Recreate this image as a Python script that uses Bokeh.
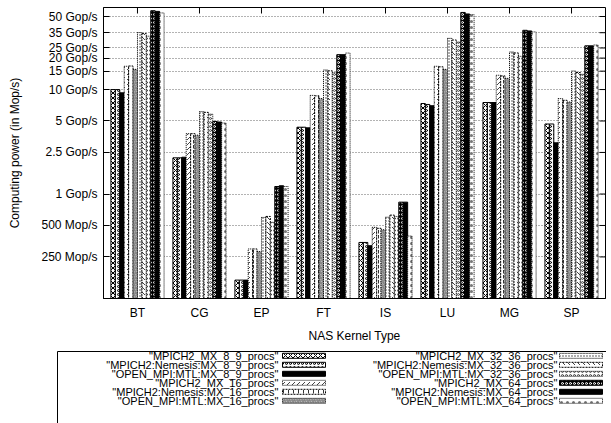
import math
from bokeh.plotting import figure
from bokeh.models import Range1d, FixedTicker, ColumnDataSource
from bokeh.embed import file_html
from bokeh.resources import INLINE
from bokeh.core.properties import value

# ---------------- data ----------------
categories = ["BT", "CG", "EP", "FT", "IS", "LU", "MG", "SP"]

series_names = [
    "MPICH2_MX_8_9_procs",
    "MPICH2:Nemesis:MX_8_9_procs",
    "OPEN_MPI:MTL:MX_8_9_procs",
    "MPICH2_MX_16_procs",
    "MPICH2:Nemesis:MX_16_procs",
    "OPEN_MPI:MTL:MX_16_procs",
    "MPICH2_MX_32_36_procs",
    "MPICH2:Nemesis:MX_32_36_procs",
    "OPEN_MPI:MTL:MX_32_36_procs",
    "MPICH2_MX_64_procs",
    "MPICH2:Nemesis:MX_64_procs",
    "OPEN_MPI:MTL:MX_64_procs",
]

# values in Mop/s, order: BT CG EP FT IS LU MG SP
mpich2_mx_8_9       = [10000, 2220, 150, 4360, 344, 7350, 7510, 4680]
nemesis_mx_8_9      = [10000, 2220, 150, 4360, 344, 7200, 7510, 4680]
openmpi_mx_8_9      = [9300, 2250, 150, 4300, 320, 7000, 7510, 3090]
mpich2_mx_16        = [16700, 3780, 298, 8790, 480, 16700, 13700, 8190]
nemesis_mx_16       = [16800, 3780, 298, 8700, 470, 16500, 13500, 7890]
openmpi_mx_16       = [15600, 3660, 281, 8190, 455, 15600, 12800, 7600]
mpich2_mx_32_36     = [35100, 6150, 597, 15400, 600, 30900, 22900, 15060]
nemesis_mx_32_36    = [34300, 6050, 610, 15100, 628, 29800, 22400, 14550]
openmpi_mx_32_36    = [32400, 5810, 536, 14500, 610, 28500, 20800, 14000]
mpich2_mx_64        = [56800, 4950, 1180, 21570, 836, 54700, 36900, 26200]
nemesis_mx_64       = [56000, 4890, 1200, 21570, 836, 52900, 36400, 26200]
openmpi_mx_64       = [54100, 4780, 1180, 22350, 396, 52100, 35600, 26700]

series_values = [
    mpich2_mx_8_9, nemesis_mx_8_9, openmpi_mx_8_9,
    mpich2_mx_16, nemesis_mx_16, openmpi_mx_16,
    mpich2_mx_32_36, nemesis_mx_32_36, openmpi_mx_32_36,
    mpich2_mx_64, nemesis_mx_64, openmpi_mx_64,
]

y_ticks = [250, 500, 1000, 2500, 5000, 10000, 15000, 20000, 25000, 35000, 50000]
y_tick_labels = ["250 Mop/s", "500 Mop/s", "1 Gop/s", "2.5 Gop/s", "5 Gop/s",
                 "10 Gop/s", "15 Gop/s", "20 Gop/s", "25 Gop/s", "35 Gop/s", "50 Gop/s"]

x_title = "NAS Kernel Type"
y_title = "Computing power (in Mop/s)"

# ---------------- styles ----------------
FONT = "Liberation Sans"
FS = "12px"
LEG_FS = "11px"
Y_MIN, Y_MAX = 100, 61000

styles = [
    dict(fill_color="white", hatch_pattern="diagonal_cross", hatch_color="black", hatch_scale=5, hatch_weight=1, line_dash="solid"),
    dict(fill_color="white", hatch_pattern="ring", hatch_color="black", hatch_scale=4, hatch_weight=1, line_dash="solid"),
    dict(fill_color="black", hatch_pattern=" ", line_dash="solid"),
    dict(fill_color="white", hatch_pattern="right_diagonal_dash", hatch_color="#444444", hatch_scale=5, hatch_weight=1, line_dash="1 1"),
    dict(fill_color="white", hatch_pattern="vertical_dash", hatch_color="#333333", hatch_scale=5, hatch_weight=1, line_dash="2 1"),
    dict(fill_color="white", hatch_pattern="spiral", hatch_color="#444444", hatch_scale=5, hatch_weight=1, line_dash="1 1"),
    dict(fill_color="white", hatch_pattern="dot", hatch_color="#333333", hatch_scale=3, hatch_weight=1, line_dash="1 1"),
    dict(fill_color="white", hatch_pattern="left_diagonal_dash", hatch_color="#444444", hatch_scale=5, hatch_weight=1, line_dash="2 1"),
    dict(fill_color="white", hatch_pattern="ring", hatch_color="#444444", hatch_scale=4, hatch_weight=1, line_dash="1 1"),
    dict(fill_color="black", hatch_pattern="ring", hatch_color="white", hatch_scale=4, hatch_weight=1, line_dash="solid"),
    dict(fill_color="black", hatch_pattern=" ", line_dash="solid"),
    dict(fill_color="white", hatch_pattern="dot", hatch_color="#777777", hatch_scale=6, hatch_weight=1, line_dash="1 1"),
]

n = len(series_names)
gap = 2
bar_w = 1.0 / (n + gap)
pad = 0.548
x_start, x_end = -pad, len(categories) - 1 + pad

W = 606
p = figure(width=W, height=345,
           x_range=Range1d(x_start, x_end),
           y_range=Range1d(Y_MIN, Y_MAX), y_axis_type="log",
           output_backend="svg", toolbar_location=None,
           min_border_left=103, min_border_right=1, min_border_top=7, min_border_bottom=40)

p.outline_line_color = "black"
p.outline_line_width = 1
p.background_fill_color = "white"
p.border_fill_color = "white"

# y axis
ya = p.yaxis[0]
ya.ticker = FixedTicker(ticks=y_ticks, minor_ticks=[])
ya.major_label_overrides = {t: l for t, l in zip(y_ticks, y_tick_labels)}
ya.major_tick_in = 6
ya.major_tick_out = 0
ya.minor_tick_in = 0
ya.minor_tick_out = 0
ya.major_label_standoff = 6
ya.axis_label = y_title
ya.axis_label_standoff = 16

# x axis
xa = p.xaxis[0]
xa.ticker = FixedTicker(ticks=list(range(len(categories))), minor_ticks=[])
xa.major_label_overrides = {i: c for i, c in enumerate(categories)}
xa.major_tick_in = 0
xa.major_tick_out = 0
xa.minor_tick_in = 0
xa.minor_tick_out = 0
xa.major_label_standoff = 7
xa.axis_label = x_title
xa.axis_label_standoff = 6

for ax in (xa, ya):
    ax.major_label_text_font = FONT
    ax.major_label_text_font_size = FS
    ax.major_label_text_color = "black"
    ax.axis_label_text_font = FONT
    ax.axis_label_text_font_size = FS
    ax.axis_label_text_font_style = "normal"
    ax.axis_label_text_color = "black"
    ax.axis_line_color = "black"
    ax.major_tick_line_color = "black"

# grid
p.xgrid.visible = False
p.ygrid.ticker = FixedTicker(ticks=y_ticks, minor_ticks=[])
p.ygrid.grid_line_color = "black"
p.ygrid.grid_line_alpha = 0.6
p.ygrid.grid_line_dash = "1 2"
p.ygrid.grid_line_width = 1

# bars
for j, (name, vals) in enumerate(zip(series_names, series_values)):
    xs = [i + (j - (n - 1) / 2.0) * bar_w for i in range(len(categories))]
    src = ColumnDataSource(dict(x=xs, top=vals, cat=categories))
    p.vbar(x="x", top="top", bottom=Y_MIN, width=bar_w, source=src,
           line_color="black", line_width=1, **styles[j])

# mirrored inward ticks on right and top (half of each dash is clipped by the frame)
p.scatter(x=[x_end] * len(y_ticks), y=y_ticks, marker="dash", size=12,
          line_color="black", line_width=1)
p.scatter(x=list(range(len(categories))), y=[Y_MAX] * len(categories), marker="dash",
          angle=math.pi / 2, size=12, line_color="black", line_width=1)

# ---------------- legend box (separate strip) ----------------
LH = 78
leg = figure(width=W, height=LH, x_range=Range1d(0, W), y_range=Range1d(LH, 0),
             output_backend="svg", toolbar_location=None,
             x_axis_location=None, y_axis_location=None,
             min_border=0, min_border_left=0, min_border_right=0,
             min_border_top=0, min_border_bottom=0)
leg.outline_line_color = None
leg.grid.visible = False
leg.background_fill_color = "white"
leg.border_fill_color = "white"

box_l, box_r, box_t, box_b = 57, 630, 6, 95
leg.quad(left=[box_l], right=[box_r], top=[box_t], bottom=[box_b],
         fill_color=None, line_color="black", line_width=1)

rows = n // 2
row0, row_h = 10.3, 9.0
text_right = [278, 557]
sw_cx = [303.5, 580.5]
sw_w, sw_h = 43, 5
for j, name in enumerate(series_names):
    col = j // rows
    r = j % rows
    y = row0 + r * row_h
    leg.text(x=[text_right[col]], y=[y], text=['"' + name + '"'],
             text_font=value(FONT), text_font_size=LEG_FS, text_color="black",
             text_align="right", text_baseline="middle")
    leg.rect(x=[sw_cx[col]], y=[y], width=sw_w, height=sw_h,
             line_color="black", line_width=1, **styles[j])

open("out.html", "w").write(file_html([p, leg], INLINE))
